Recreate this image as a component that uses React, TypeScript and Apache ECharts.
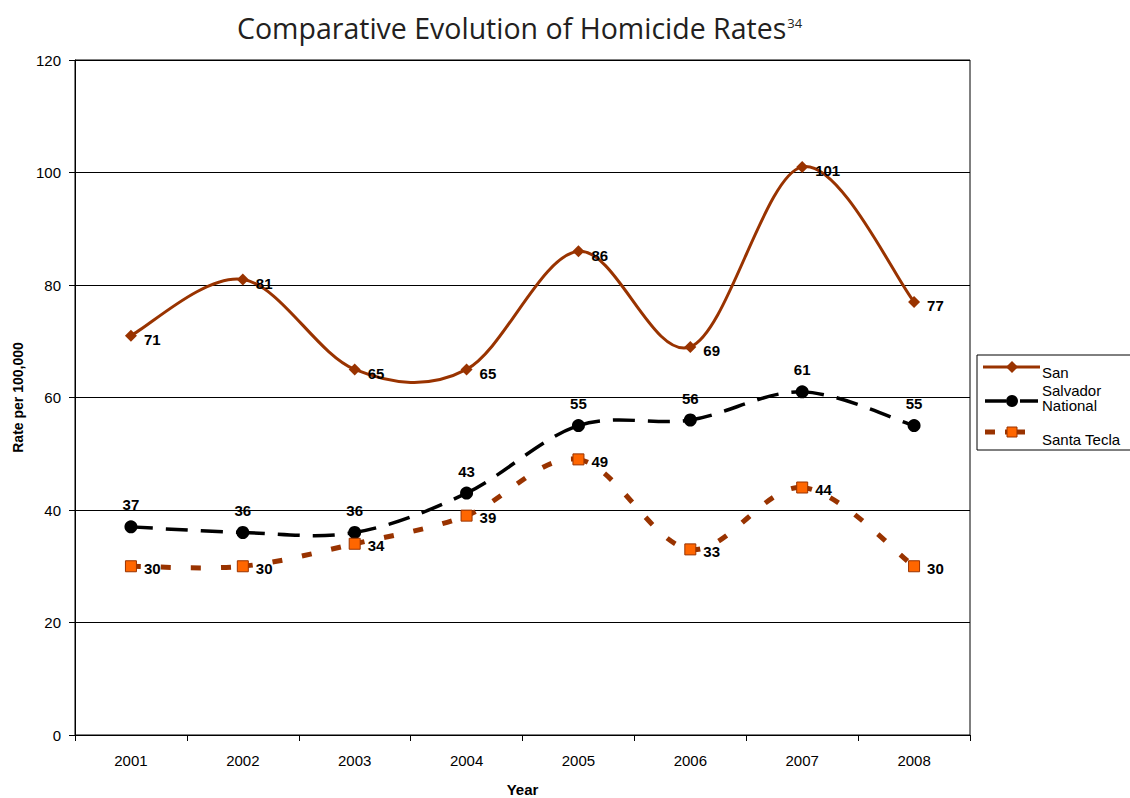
import React, { useEffect, useRef } from "react";
import * as echarts from "echarts";

const years = ["2001", "2002", "2003", "2004", "2005", "2006", "2007", "2008"];
const sanSalvador = [71, 81, 65, 65, 86, 69, 101, 77];
const national = [37, 36, 36, 43, 55, 56, 61, 55];
const santaTecla = [30, 30, 34, 39, 49, 33, 44, 30];
const seriesNames = ["San Salvador", "National", "Santa Tecla"];
const legendTexts = [["San"], ["Salvador", "National"], ["Santa Tecla"]];
const titleText = "Comparative Evolution of Homicide Rates";
const titleNote = "34";
const yName = "Rate per 100,000";
const xName = "Year";
const yMin = 0;
const yMax = 120;
const yStep = 20;

const BROWN = "#993300";
const ORANGE = "#FF6600";
const BLACK = "#000000";
const FONT = "'Liberation Sans', Arial, sans-serif";

// Excel-like smoothed segment (Catmull-Rom -> cubic Bezier), drawn per segment
function smoothSegmentSeries(values: number[], color: string, width: number, dash: number[] | null, z: number) {
  return {
    type: "custom",
    data: values.map((v, i) => [i, v]),
    encode: { x: 0, y: 1 },
    z,
    silent: true,
    renderItem: (params: any, api: any) => {
      const i = params.dataIndex;
      const n = values.length;
      if (i >= n - 1) return { type: "group", children: [] };
      const idx = [Math.max(i - 1, 0), i, i + 1, Math.min(i + 2, n - 1)];
      const p = idx.map((j) => api.coord([j, values[j]]));
      const [p0, p1, p2, p3] = p;
      const cpx1 = p1[0] + (p2[0] - p0[0]) / 6;
      const cpy1 = p1[1] + (p2[1] - p0[1]) / 6;
      const cpx2 = p2[0] - (p3[0] - p1[0]) / 6;
      const cpy2 = p2[1] - (p3[1] - p1[1]) / 6;
      return {
        type: "bezierCurve",
        shape: { x1: p1[0], y1: p1[1], x2: p2[0], y2: p2[1], cpx1, cpy1, cpx2, cpy2 },
        style: { stroke: color, lineWidth: width, fill: null, lineDash: dash || undefined, lineCap: "butt" },
      };
    },
  };
}

export default function App() {
  const ref = useRef<HTMLDivElement>(null);

  useEffect(() => {
    if (!ref.current) return;
    const chart = echarts.init(ref.current, null, { renderer: "svg" });

    const legendFont = `15px ${FONT}`;
    const legendGraphics: any[] = [
      {
        type: "rect",
        shape: { x: 977, y: 355, width: 200, height: 95 },
        style: { fill: "#fff", stroke: BLACK, lineWidth: 1 },
        z: 10,
      },
      {
        type: "line",
        shape: { x1: 983, y1: 367, x2: 1040, y2: 367 },
        style: { stroke: BROWN, lineWidth: 3 },
        z: 11,
      },
      {
        type: "polygon",
        shape: { points: [[1012, 361], [1018, 367], [1012, 373], [1006, 367]] },
        style: { fill: BROWN },
        z: 12,
      },
      {
        type: "text",
        x: 1042,
        y: 372,
        style: { text: legendTexts[0][0], font: legendFont, fill: BLACK, verticalAlign: "middle" },
        z: 12,
      },
      {
        type: "line",
        shape: { x1: 985, y1: 401, x2: 1006, y2: 401 },
        style: { stroke: BLACK, lineWidth: 3.5 },
        z: 11,
      },
      {
        type: "line",
        shape: { x1: 1020, y1: 401, x2: 1038, y2: 401 },
        style: { stroke: BLACK, lineWidth: 3.5 },
        z: 11,
      },
      {
        type: "circle",
        shape: { cx: 1012, cy: 401, r: 6 },
        style: { fill: BLACK },
        z: 12,
      },
      {
        type: "text",
        x: 1042,
        y: 390,
        style: { text: legendTexts[1][0], font: legendFont, fill: BLACK, verticalAlign: "middle" },
        z: 12,
      },
      {
        type: "text",
        x: 1042,
        y: 405,
        style: { text: legendTexts[1][1], font: legendFont, fill: BLACK, verticalAlign: "middle" },
        z: 12,
      },
      {
        type: "line",
        shape: { x1: 985, y1: 432, x2: 995, y2: 432 },
        style: { stroke: BROWN, lineWidth: 5 },
        z: 11,
      },
      {
        type: "line",
        shape: { x1: 1005, y1: 432, x2: 1025, y2: 432 },
        style: { stroke: BROWN, lineWidth: 5 },
        z: 11,
      },
      {
        type: "rect",
        shape: { x: 1007, y: 427, width: 10, height: 10 },
        style: { fill: ORANGE, stroke: BROWN, lineWidth: 1 },
        z: 12,
      },
      {
        type: "text",
        x: 1042,
        y: 439,
        style: { text: legendTexts[2][0], font: legendFont, fill: BLACK, verticalAlign: "middle" },
        z: 12,
      },
    ];

    const labelStyle = {
      show: true,
      fontFamily: FONT,
      fontWeight: "bold" as const,
      fontSize: 15,
      color: BLACK,
    };

    chart.setOption({
      animation: false,
      backgroundColor: "#fff",
      title: {
        left: 232,
        top: 8,
        text: `{a|${titleText}}{b|${titleNote}}`,
        textStyle: {
          fontWeight: "normal",
          rich: {
            a: { fontFamily: "'Open Sans', sans-serif", fontWeight: "normal", fontSize: 28.5, color: "#231f20" },
            b: { fontFamily: "'Open Sans', sans-serif", fontWeight: "normal", fontSize: 13, color: "#231f20", verticalAlign: "top", padding: [3, 0, 0, 1] },
          },
        },
      },
      grid: {
        left: 75,
        right: 160,
        top: 60,
        bottom: 63,
        outerBoundsMode: "none",
        containLabel: false,
        show: true,
        borderColor: BLACK,
        borderWidth: 1,
        backgroundColor: "transparent",
      },
      xAxis: {
        type: "category",
        data: years,
        boundaryGap: true,
        name: xName,
        nameLocation: "middle",
        nameGap: 47,
        nameTextStyle: { fontFamily: FONT, fontWeight: "bold", fontSize: 15, color: BLACK },
        axisLine: { lineStyle: { color: BLACK, width: 1 } },
        axisTick: { show: true, length: 6, lineStyle: { color: BLACK } },
        axisLabel: { fontFamily: FONT, fontSize: 15, color: BLACK, margin: 18 },
      },
      yAxis: {
        type: "value",
        min: yMin,
        max: yMax,
        interval: yStep,
        name: yName,
        nameLocation: "middle",
        nameGap: 46,
        nameTextStyle: { fontFamily: FONT, fontWeight: "bold", fontSize: 14, color: BLACK },
        axisLine: { show: true, lineStyle: { color: BLACK, width: 1 } },
        axisTick: { show: true, length: 6, lineStyle: { color: BLACK } },
        axisLabel: { fontFamily: FONT, fontSize: 15, color: BLACK, margin: 14 },
        splitLine: { show: true, lineStyle: { color: BLACK, width: 1 } },
      },
      graphic: legendGraphics,
      series: [
        smoothSegmentSeries(sanSalvador, BROWN, 3, null, 2),
        smoothSegmentSeries(national, BLACK, 3.5, [22, 13], 2),
        smoothSegmentSeries(santaTecla, BROWN, 5, [10, 20], 2),
        {
          name: seriesNames[0],
          type: "line",
          data: sanSalvador,
          symbol: "diamond",
          symbolSize: 12,
          itemStyle: { color: BROWN },
          lineStyle: { width: 0, opacity: 0 },
          label: { ...labelStyle, position: "right", distance: 7, offset: [0, 4] },
          z: 5,
        },
        {
          name: seriesNames[1],
          type: "line",
          data: national,
          symbol: "circle",
          symbolSize: 13,
          itemStyle: { color: BLACK },
          lineStyle: { width: 0, opacity: 0 },
          label: { ...labelStyle, position: "top", distance: 8 },
          z: 5,
        },
        {
          name: seriesNames[2],
          type: "line",
          data: santaTecla,
          symbol: "rect",
          symbolSize: 11,
          itemStyle: { color: ORANGE, borderColor: BROWN, borderWidth: 1 },
          lineStyle: { width: 0, opacity: 0 },
          label: { ...labelStyle, position: "right", distance: 7, offset: [0, 2] },
          z: 5,
        },
      ],
    });

    return () => chart.dispose();
  }, []);

  return (
    <div
      ref={ref}
      style={{ position: "absolute", left: 0, top: 0, width: 1130, height: 798 }}
    />
  );
}
